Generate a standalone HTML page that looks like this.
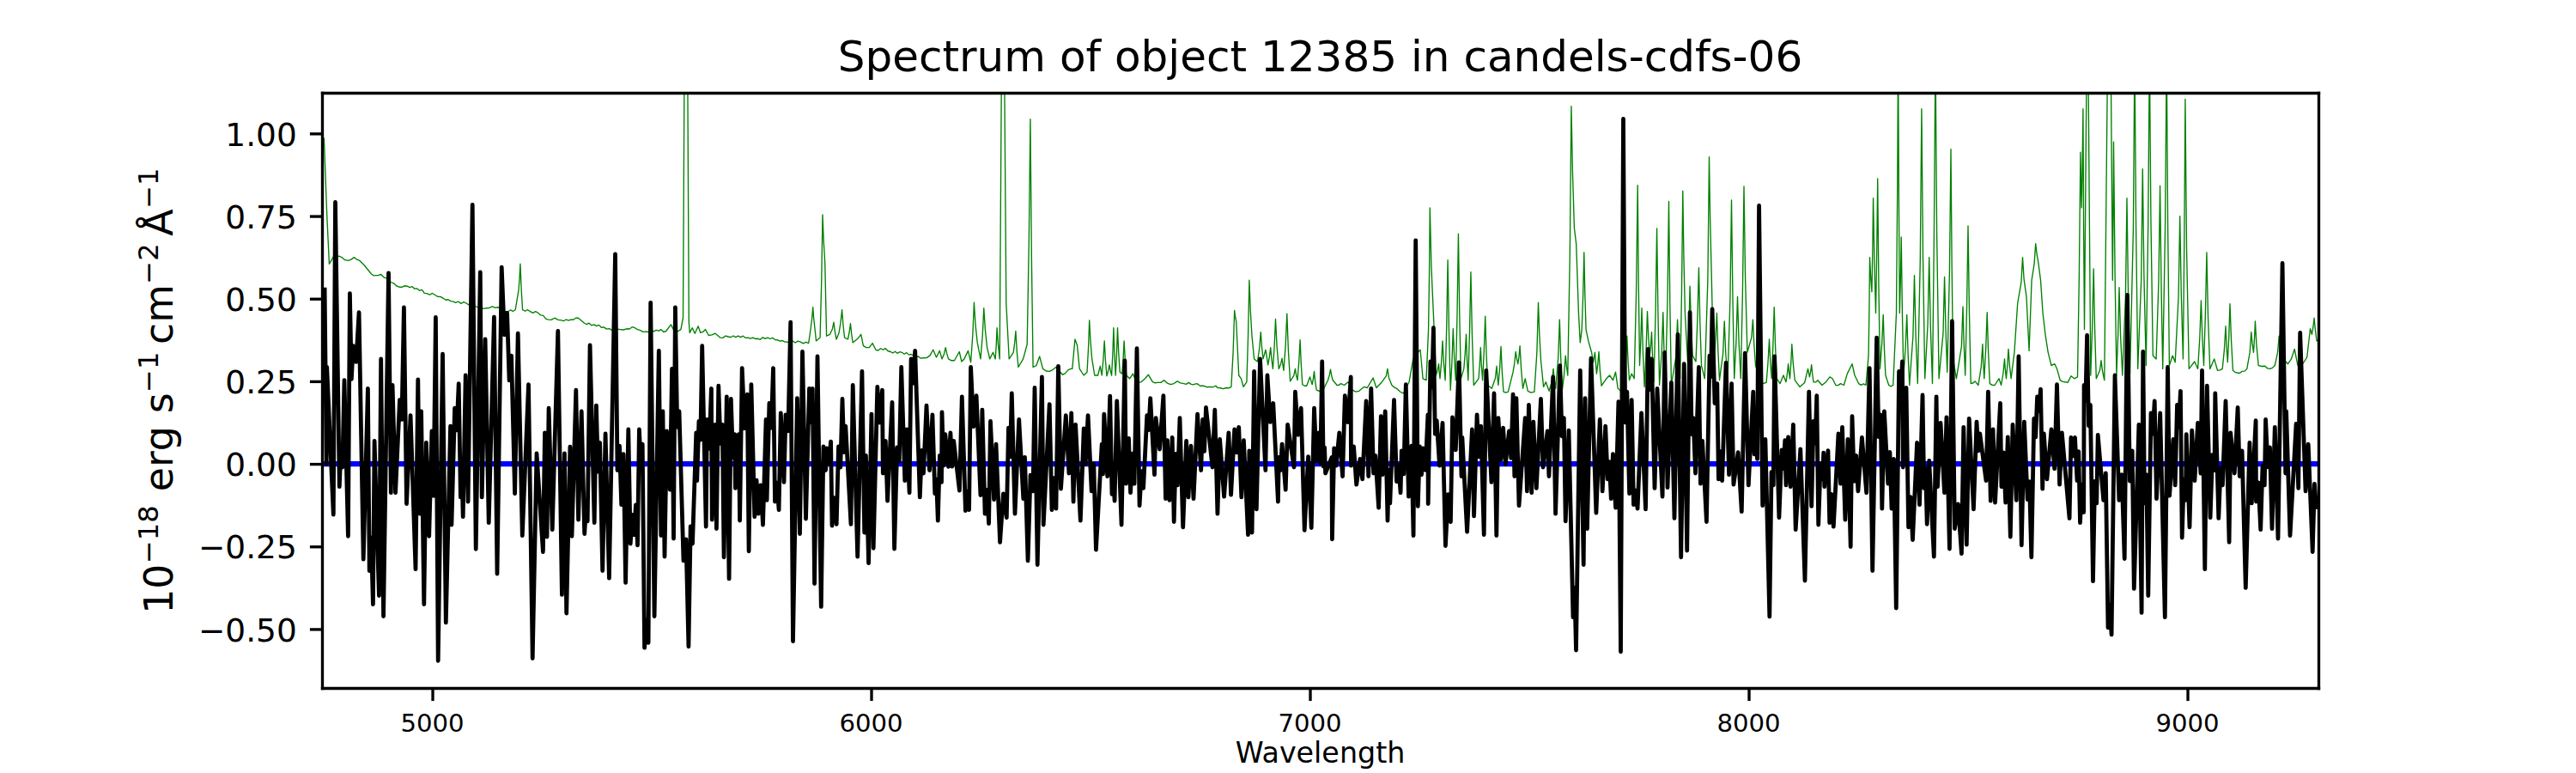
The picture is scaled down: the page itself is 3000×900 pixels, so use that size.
<!DOCTYPE html><html><head><meta charset="utf-8"><title>Spectrum of object 12385</title><style>html,body{margin:0;padding:0;background:#fff;overflow:hidden}svg{display:block}</style></head><body><svg width="3000" height="900" viewBox="0 0 720 216" version="1.1">
 
 <defs>
  <style type="text/css">*{stroke-linejoin: round; stroke-linecap: butt}</style>
 </defs>
 <g id="figure_1">
  <g id="patch_1">
   <path d="M 0 216 
L 720 216 
L 720 0 
L 0 0 
z
" style="fill: #ffffff"/>
  </g>
  <g id="axes_1">
   <g id="patch_2">
    <path d="M 90 192.24 
L 648 192.24 
L 648 25.92 
L 90 25.92 
z
" style="fill: #ffffff"/>
   </g>
   <defs><clipPath id="axclip"><rect x="90" y="25.92" width="558" height="166.32"/></clipPath></defs><g clip-path="url(#axclip)" style="fill:none;stroke-linejoin:round;stroke-linecap:butt"><polyline points="90.12,37.92 90.58,38.76 91.37,60.00 92.02,73.75 93.22,71.74 93.98,72.04 94.74,71.54 95.50,71.90 96.41,72.64 97.32,72.82 98.15,72.51 98.98,71.90 99.76,72.53 100.54,72.82 101.90,74.21 103.75,76.49 104.44,77.02 105.12,76.94 105.80,76.91 106.49,76.68 107.40,77.56 108.31,77.86 109.24,78.84 110.16,79.25 110.84,79.91 111.53,80.16 112.29,80.27 113.05,79.87 113.81,79.97 114.50,80.29 115.19,80.09 115.88,80.67 116.57,80.62 117.25,81.19 117.94,80.97 118.62,81.93 119.30,81.98 120.07,82.38 120.84,81.95 121.61,82.44 122.37,82.90 123.13,82.91 123.89,83.35 124.58,83.82 125.27,83.70 125.96,84.15 126.65,84.26 127.38,84.58 128.12,84.24 128.85,84.85 129.59,84.38 130.32,84.72 131.00,85.18 131.69,84.97 132.37,85.58 133.06,85.66 133.74,85.87 134.42,85.74 135.11,86.26 135.79,86.11 136.72,86.03 137.64,85.66 138.40,86.00 139.16,85.86 139.92,86.11 140.60,86.86 141.29,87.02 141.98,87.05 142.67,86.63 143.36,86.99 144.05,86.57 144.96,81.07 145.21,77.78 145.42,73.75 145.71,80.80 146.06,86.57 146.77,86.94 147.47,86.57 148.18,87.02 148.94,87.43 149.70,87.05 150.46,87.48 151.15,88.06 151.84,88.16 152.53,89.07 153.22,89.30 154.13,89.38 155.04,88.85 155.95,89.36 156.86,89.50 157.55,89.69 158.23,89.29 158.92,89.54 159.60,89.30 160.27,89.33 160.94,88.86 161.62,88.85 163.27,90.24 163.96,90.65 164.64,90.28 165.32,90.91 166.01,90.70 166.70,91.12 167.39,90.81 168.08,91.49 168.77,91.42 169.53,91.96 170.29,91.84 171.05,92.26 171.82,92.40 172.58,91.97 173.35,92.06 174.26,92.16 175.18,91.87 175.94,91.91 176.70,91.37 177.46,91.61 178.15,92.08 178.85,92.26 179.76,92.74 180.67,92.71 181.36,92.77 182.04,92.18 182.72,92.63 183.41,92.26 184.10,92.45 184.79,92.09 185.48,92.78 186.17,92.52 187.54,90.70 188.45,92.52 189.37,92.61 190.30,92.06 190.92,88.80 191.30,14.40 191.76,14.40 192.17,14.40 192.55,90.00 192.77,92.98 193.49,91.61 194.23,93.17 195.14,91.15 195.79,92.98 196.48,92.75 197.16,92.06 198.07,93.72 198.98,93.58 199.90,93.17 201.29,94.34 202.05,94.40 202.81,93.85 203.57,94.08 204.26,94.26 204.95,93.84 205.64,94.24 206.33,93.89 207.01,94.25 207.70,93.88 208.38,94.42 209.06,94.34 209.75,94.61 210.44,94.33 211.13,94.67 211.82,94.63 212.51,94.87 213.19,94.28 213.88,94.65 214.56,94.34 215.25,94.68 215.94,94.39 216.63,94.94 217.32,94.99 218.00,95.32 218.69,95.16 219.37,95.54 220.06,95.54 220.79,95.87 221.52,95.29 222.26,95.75 222.99,95.32 223.73,95.54 224.49,95.97 225.25,95.60 226.01,95.90 226.68,91.20 226.97,88.78 227.21,85.82 227.42,88.78 227.69,91.20 228.12,95.26 229.22,94.34 229.61,78.89 229.92,60.00 230.21,67.30 230.57,73.27 231.02,93.89 231.96,93.43 232.66,91.91 233.04,90.05 233.37,92.66 233.78,94.80 234.50,92.98 234.97,90.09 235.34,86.57 235.67,90.84 236.06,94.34 236.98,94.80 237.39,92.82 237.72,90.41 238.01,93.34 238.37,95.74 239.74,94.63 240.65,93.43 241.30,96.65 242.12,97.12 242.95,97.10 243.86,95.90 244.78,97.75 245.46,97.92 246.14,97.38 246.83,97.69 247.51,97.37 248.21,98.10 248.90,98.28 249.54,98.63 250.18,98.22 250.82,98.72 251.46,98.33 252.10,98.47 252.74,98.93 253.38,98.55 254.03,99.15 254.67,99.00 255.31,99.38 256.00,99.84 256.68,99.60 257.36,100.12 258.05,100.03 258.97,100.00 259.90,99.38 260.81,97.75 261.72,99.84 262.63,98.02 263.28,100.30 263.90,98.86 264.29,97.10 264.66,98.86 265.10,100.30 265.93,100.75 266.76,100.75 268.13,98.28 268.78,101.04 269.50,100.30 270.60,98.02 271.34,101.23 271.87,93.73 272.26,84.55 272.64,90.70 273.17,95.74 274.08,100.30 274.61,93.91 274.99,86.11 275.38,92.16 275.90,97.10 276.65,100.30 277.56,98.47 278.21,100.30 278.46,96.39 278.66,91.61 279.00,96.39 279.41,100.30 279.96,14.40 280.32,14.40 280.70,14.40 281.23,84.72 282.05,100.30 283.25,98.47 283.60,95.79 283.90,92.52 284.22,98.06 284.62,102.60 285.98,100.30 287.09,96.19 287.59,67.89 287.98,33.29 288.32,71.41 288.74,102.60 289.66,102.14 290.57,99.58 291.48,103.06 292.40,103.69 293.33,103.78 294.24,103.34 295.15,102.60 296.98,104.71 297.74,104.31 298.51,103.42 299.28,103.06 299.71,103.06 300.46,94.80 301.08,96.46 301.73,103.06 302.93,104.88 303.84,103.97 304.20,97.46 304.49,89.50 304.81,95.44 305.21,100.30 305.95,104.88 306.86,104.88 307.51,102.31 307.97,104.88 308.36,100.55 308.69,95.26 308.98,100.65 309.34,105.07 309.75,103.67 310.08,101.95 310.36,103.56 310.70,104.88 311.01,98.91 311.26,91.61 311.50,98.91 311.81,104.88 312.11,98.91 312.36,91.61 312.65,98.41 313.01,103.97 313.63,104.42 313.94,100.30 314.18,95.26 314.48,100.55 314.83,104.88 315.74,105.79 316.66,104.42 317.57,106.73 318.26,106.87 318.96,106.73 320.04,105.79 320.98,104.71 322.15,106.73 322.84,106.99 323.52,106.90 324.44,106.90 325.37,106.25 326.28,107.08 327.19,107.45 328.12,107.17 329.04,106.54 329.95,107.02 330.86,107.18 331.55,107.36 332.23,106.90 332.92,107.38 333.60,107.45 334.54,107.18 335.45,107.83 336.36,107.81 337.27,108.17 338.18,108.10 339.01,108.18 339.84,107.81 340.39,108.40 340.94,108.36 341.86,108.64 342.77,108.36 343.45,108.47 344.14,108.10 344.66,98.49 345.05,86.76 345.26,88.41 345.53,89.76 346.25,104.88 346.90,105.79 347.54,108.10 348.46,106.73 348.85,93.94 349.18,78.31 349.51,86.88 349.92,93.89 350.54,100.30 351.48,101.04 352.01,97.32 352.39,92.78 352.68,96.92 353.04,100.30 353.76,97.75 354.41,101.95 354.80,99.77 355.13,97.10 355.42,100.38 355.78,103.06 356.19,96.79 356.52,89.14 356.90,96.79 357.43,103.06 357.96,101.74 358.34,100.13 358.55,101.99 358.80,103.51 359.33,96.38 359.71,87.67 360.10,98.05 360.62,106.54 361.63,104.97 362.02,103.06 362.30,104.81 362.64,106.25 363.05,101.18 363.38,94.99 363.68,101.84 364.03,107.45 364.62,107.83 365.21,107.81 366.12,105.34 366.77,107.45 367.07,105.80 367.32,103.78 367.61,106.65 367.97,109.01 368.88,109.32 369.79,109.01 371.16,106.25 371.56,104.90 371.88,103.25 372.17,104.90 372.53,106.25 373.70,107.64 374.26,107.61 374.81,107.18 375.72,107.64 376.82,106.73 378.02,109.01 378.94,109.46 379.85,109.27 381.22,108.10 382.15,108.36 383.78,105.62 384.70,108.36 386.26,106.73 387.43,105.08 387.82,103.06 388.20,105.58 389.02,107.64 389.70,108.21 390.38,108.55 391.30,109.44 392.21,109.92 393.86,106.73 394.97,100.30 395.88,98.93 396.98,97.75 397.70,105.79 398.64,106.25 399.26,92.06 399.49,76.76 399.67,58.06 400.06,74.49 400.66,87.94 401.38,104.88 401.79,103.44 402.12,101.69 402.28,103.95 402.48,105.79 402.88,101.06 403.20,95.28 403.53,101.31 403.94,106.25 404.34,91.13 404.66,72.65 405.00,92.65 405.41,109.01 405.82,101.30 406.15,91.87 406.48,99.78 406.87,106.25 407.28,87.82 407.62,65.30 407.94,87.57 408.34,105.79 409.15,103.06 409.51,98.73 409.80,93.43 410.05,100.48 410.35,106.25 410.76,92.65 411.10,76.03 411.46,93.42 411.91,107.64 413.28,105.79 413.58,101.88 413.83,97.10 414.08,102.13 414.38,106.25 414.79,98.21 415.13,88.39 415.45,98.98 415.85,107.64 416.95,108.55 417.94,105.74 418.32,102.31 418.53,105.24 418.78,107.64 419.19,102.77 419.52,96.82 419.84,103.77 420.24,109.46 420.89,109.69 421.54,109.46 422.90,103.97 423.31,101.41 423.65,98.28 423.93,100.15 424.27,101.69 424.58,99.42 424.82,96.65 425.19,103.20 425.64,108.55 426.29,105.79 427.03,109.27 427.94,109.69 428.86,109.46 429.58,98.25 429.96,84.55 430.28,93.46 430.68,100.75 431.42,108.10 432.07,106.73 432.98,109.27 433.78,106.47 434.16,103.06 434.45,106.08 434.81,108.55 435.53,99.89 435.91,89.30 436.25,100.14 436.66,109.01 437.18,104.68 437.57,99.38 437.85,102.41 438.19,104.88 438.79,71.04 439.18,29.69 439.55,48.38 440.02,63.67 440.57,68.26 441.22,87.48 441.67,95.74 442.13,92.06 442.47,82.38 442.75,70.54 443.00,82.38 443.30,92.06 443.95,95.26 444.86,98.47 445.32,101.23 445.78,98.47 446.26,104.42 446.60,101.66 446.88,98.28 447.21,103.52 447.62,107.81 448.99,105.79 449.90,104.88 450.82,106.25 451.56,103.97 452.21,108.55 452.89,109.17 453.58,109.46 454.37,102.45 454.75,93.89 455.04,100.69 455.40,106.25 456.05,104.42 456.77,105.79 457.34,81.48 457.73,51.77 457.98,79.47 458.28,102.14 458.61,94.93 458.88,86.11 459.21,98.20 459.62,108.10 460.07,98.61 460.44,87.02 460.73,93.82 461.09,99.38 461.39,96.41 461.64,92.78 461.92,100.45 462.26,106.73 462.73,87.43 463.10,63.84 463.43,87.93 463.82,107.64 464.45,98.48 464.83,87.29 465.12,98.48 465.48,107.64 466.06,84.52 466.44,56.26 466.75,84.52 467.14,107.64 468.48,99.39 468.86,89.30 469.20,98.37 469.61,105.79 470.02,82.19 470.35,53.35 470.63,72.12 470.98,87.48 471.72,101.23 472.06,91.66 472.34,79.97 472.68,90.65 473.09,99.38 474.00,101.04 474.45,89.25 474.82,74.83 475.15,89.85 475.56,102.14 476.47,105.79 477.34,77.91 477.72,43.82 477.98,60.28 478.30,73.75 478.94,102.14 479.47,95.55 479.86,87.48 480.19,97.80 480.60,106.25 481.58,98.83 481.97,89.76 482.35,98.83 482.88,106.25 483.58,83.59 483.96,55.90 484.31,83.34 484.73,105.79 485.26,95.49 485.64,82.90 486.02,95.49 486.55,105.79 487.06,81.61 487.44,52.06 487.82,77.58 488.38,98.47 489.55,94.35 489.94,89.30 490.27,96.37 490.68,102.14 491.59,104.88 492.77,107.18 493.70,106.90 494.15,101.45 494.52,94.80 494.81,100.85 495.17,105.79 495.56,96.81 495.89,85.82 496.22,96.81 496.63,105.79 497.54,107.18 498.46,104.88 499.20,106.73 499.54,104.46 499.82,101.69 500.03,103.95 500.28,105.79 500.58,101.47 500.83,96.19 501.21,101.72 501.67,106.25 503.04,108.10 504.41,106.90 505.32,103.06 505.78,105.34 506.08,103.81 506.33,101.95 506.58,104.58 506.88,106.73 507.48,106.78 508.08,106.25 509.26,107.64 510.36,106.73 511.44,105.34 512.18,105.79 513.10,107.64 513.78,107.67 514.46,107.18 515.38,107.64 516.31,104.42 517.68,101.69 518.40,104.88 519.50,107.18 520.18,107.61 520.85,107.24 521.52,107.64 522.26,99.38 522.45,87.02 522.60,71.90 522.86,77.20 523.18,81.53 523.40,69.77 523.58,55.39 523.90,73.04 524.28,87.48 524.57,70.57 524.81,49.90 525.10,79.13 525.46,103.06 525.98,96.25 526.37,87.94 526.66,97.26 527.02,104.88 527.93,107.64 528.53,107.97 529.13,107.64 530.04,87.48 530.32,54.59 530.54,14.40 530.73,54.59 530.95,87.48 531.20,77.92 531.41,66.24 531.70,87.49 532.06,104.88 532.58,97.26 532.97,87.94 533.30,98.77 533.71,107.64 534.70,93.83 535.08,76.94 535.46,93.58 535.99,107.18 536.71,72.63 537.10,30.41 537.48,71.87 538.01,105.79 538.82,90.54 539.21,71.90 539.59,91.31 540.12,107.18 540.58,65.43 540.96,14.40 541.34,64.67 541.94,105.79 543.12,93.02 543.50,77.40 543.84,92.01 544.25,103.97 544.90,75.93 545.28,41.66 545.55,73.91 545.88,100.30 546.82,105.79 548.26,96.73 548.64,85.66 548.93,96.23 549.29,104.88 549.72,86.09 550.08,63.12 550.43,87.36 550.85,107.18 551.44,107.04 552.02,106.54 552.94,107.64 553.75,102.49 554.14,96.19 554.34,101.47 554.59,105.79 555.04,97.47 555.41,87.29 555.74,98.23 556.15,107.18 556.84,107.61 557.52,107.64 558.72,105.79 559.34,107.64 559.90,104.34 560.28,100.30 560.49,103.32 560.74,105.79 561.08,102.09 561.36,97.56 561.69,102.09 562.10,105.79 563.02,98.47 563.93,84.72 564.94,78.95 565.32,71.90 565.70,77.95 566.40,82.90 567.14,98.02 567.86,78.31 568.58,73.70 568.97,68.06 569.30,70.93 569.71,73.27 570.36,78.31 570.98,87.48 571.73,93.89 572.45,98.47 573.36,102.14 574.30,101.69 574.92,103.06 575.83,106.25 576.53,106.64 577.22,106.73 577.94,106.90 578.86,105.07 579.77,105.79 580.68,105.34 581.13,77.07 581.50,42.53 581.64,51.07 581.81,58.06 582.03,45.61 582.22,30.41 582.39,64.32 582.60,92.06 583.25,14.40 583.63,14.40 584.35,104.88 584.80,91.49 585.17,75.12 585.50,91.99 585.91,105.79 586.90,103.52 587.28,100.75 587.66,103.77 588.19,106.25 589.10,14.40 589.56,14.40 589.97,14.40 590.47,78.31 590.63,60.91 590.76,39.65 591.13,75.53 591.58,104.88 591.99,93.83 592.32,80.33 592.70,93.83 593.23,104.88 594.10,82.61 594.48,55.39 594.86,82.36 595.34,104.42 596.26,63.91 596.64,14.40 597.02,63.16 597.53,103.06 598.49,77.94 598.87,47.23 599.26,77.43 599.83,102.14 600.41,62.66 600.79,14.40 601.18,61.14 601.75,99.38 602.66,100.30 603.36,78.52 603.74,51.91 604.08,80.04 604.49,103.06 605.18,63.16 605.57,14.40 605.91,62.66 606.34,102.14 607.25,99.38 607.97,101.23 608.90,82.87 609.29,60.43 609.67,82.36 610.18,100.30 610.51,67.64 610.78,27.72 611.16,69.15 611.83,103.06 613.39,101.04 614.30,103.06 614.83,94.48 615.22,84.00 615.55,93.98 615.96,102.14 616.41,87.92 616.78,70.54 617.16,88.42 617.69,103.06 618.89,100.30 619.80,103.51 620.48,103.40 621.17,103.06 621.70,97.70 622.08,91.15 622.33,96.70 622.63,101.23 622.99,93.89 623.28,84.91 623.65,95.14 624.10,103.51 624.70,103.99 625.30,104.16 625.98,104.28 626.66,103.78 627.35,103.71 628.03,103.06 628.85,98.43 629.23,92.78 629.52,95.91 629.88,98.47 630.13,94.55 630.34,89.76 630.72,96.57 631.25,102.14 632.16,102.36 633.07,102.31 633.76,102.93 634.44,103.06 635.14,102.81 635.83,102.14 636.62,98.43 637.01,93.89 637.39,97.41 638.11,100.30 639.48,101.69 640.42,100.30 641.33,97.56 642.24,102.14 642.92,102.16 643.61,101.69 644.81,99.84 645.72,91.87 646.18,93.43 646.53,91.37 646.82,88.85 647.15,92.39 647.54,95.28 648.12,94.80" style="stroke:#008000;stroke-width:0.324"/><path d="M 90 129.617 L 648 129.617" style="stroke:#0000ff;stroke-width:1.500"/><polyline points="90.74,80.33 91.25,129.72 91.37,102.60 93.19,143.81 93.72,56.52 94.87,136.01 95.29,124.80 95.71,130.56 96.24,106.25 97.30,149.83 97.78,81.98 98.24,105.95 98.71,96.65 99.53,101.11 100.34,87.29 101.57,156.29 102.82,108.55 103.25,159.48 103.75,150.19 104.26,168.86 104.66,123.22 105.94,166.44 106.49,100.30 107.18,172.22 108.60,76.30 109.27,137.69 109.70,107.64 110.54,137.69 111.72,111.74 112.31,117.21 112.90,85.92 113.64,140.78 114.74,116.06 116.16,159.05 116.83,106.08 117.24,143.54 117.74,114.96 118.51,168.86 119.14,123.67 119.93,149.83 120.70,120.46 121.18,138.53 121.78,88.68 122.45,184.63 123.72,98.93 124.63,173.98 125.90,119.09 126.22,146.64 127.10,114.05 127.66,120.19 128.21,107.18 128.74,138.94 129.07,130.37 129.41,144.38 130.13,104.88 130.82,140.18 132.05,57.19 133.01,153.43 134.23,76.03 134.69,138.94 135.62,94.80 136.61,146.06 138.10,88.58 138.96,160.32 140.21,74.66 140.98,93.54 141.74,87.48 142.34,106.28 142.94,99.38 143.90,137.93 144.77,93.17 145.99,149.66 147.72,107.45 148.85,183.96 150.00,126.70 151.78,154.20 152.28,120.91 152.88,150.00 153.38,114.05 154.37,147.98 155.95,92.52 157.06,166.18 157.78,126.70 158.33,171.38 159.34,124.85 159.84,149.83 160.99,109.01 161.66,145.22 162.53,114.96 163.37,149.16 163.79,141.87 164.21,145.63 164.90,96.46 166.13,146.06 166.66,113.30 167.16,131.79 167.66,123.67 168.41,159.48 169.22,121.20 170.26,161.57 171.96,70.99 172.56,131.41 173.16,124.58 173.69,141.02 174.26,126.86 174.86,162.82 175.63,120.00 176.21,151.92 176.71,143.85 177.22,149.42 177.71,141.09 178.20,152.35 178.66,120.00 179.11,129.55 179.57,124.13 180.14,181.01 180.68,173.27 181.22,179.59 181.85,84.55 182.90,172.22 184.15,98.02 184.75,149.66 185.26,114.96 185.76,155.54 186.36,120.46 187.27,136.85 187.82,103.06 188.28,150.50 188.74,85.92 189.29,119.36 189.84,114.96 191.04,156.70 191.75,150.68 192.46,180.67 193.01,147.10 193.56,151.92 194.59,120.91 194.81,134.33 195.34,117.72 195.79,122.89 196.25,96.65 197.33,147.14 197.62,117.24 198.22,125.34 198.82,108.55 199.01,145.22 199.90,118.63 200.26,147.74 200.83,107.81 201.37,123.91 201.91,118.63 202.34,155.71 203.11,110.83 203.78,161.74 204.31,111.48 204.85,127.88 205.39,121.37 205.54,136.42 206.50,121.37 206.78,145.46 207.41,102.86 208.14,119.69 208.87,110.21 209.30,154.03 209.98,107.45 210.91,144.38 211.45,134.17 211.99,143.54 212.62,135.60 213.24,146.64 214.10,117.24 214.34,139.78 215.02,112.68 215.57,119.53 216.12,102.86 216.60,140.18 217.15,134.92 217.70,142.46 218.23,115.42 219.12,134.74 219.60,115.87 220.28,120.44 220.97,90.05 221.64,179.18 222.82,111.29 223.56,149.16 224.28,98.28 225.24,144.96 226.20,108.55 226.66,117.97 227.11,108.55 227.66,163.08 228.48,99.58 229.51,169.54 230.15,124.80 230.78,131.40 231.05,125.23 231.64,129.53 232.22,123.38 232.56,146.90 233.18,139.13 233.81,146.47 234.36,124.80 234.91,130.56 235.44,111.48 235.90,126.37 236.35,119.09 237.84,146.47 238.37,107.64 239.69,155.54 240.94,103.78 241.61,148.82 242.02,127.32 242.78,157.37 243.58,115.70 244.13,153.19 245.23,108.10 245.92,118.11 246.60,109.01 246.79,132.24 247.51,123.22 248.06,139.94 249.36,112.39 249.98,153.36 250.73,125.04 251.33,128.88 251.93,102.60 252.91,134.33 253.46,120.00 254.18,137.69 254.66,100.30 255.22,107.07 255.77,98.02 257.11,138.94 257.62,125.88 258.12,132.24 258.96,113.30 259.80,131.40 260.62,115.87 261.31,137.93 261.73,133.95 262.15,145.46 262.66,127.29 263.16,134.74 263.28,115.15 263.74,130.08 264.19,121.37 265.08,130.39 265.66,120.91 266.11,130.37 266.57,123.22 268.18,137.09 268.87,110.83 269.86,142.70 270.36,137.30 270.86,142.46 271.34,102.60 272.12,119.21 272.90,110.57 274.06,138.36 274.54,114.50 275.30,143.54 275.84,136.89 276.38,146.30 276.84,117.72 277.82,139.61 278.40,124.13 279.50,151.51 280.43,137.96 281.35,144.62 281.88,119.54 282.34,127.66 282.79,109.92 283.68,143.54 284.81,117.24 286.03,139.34 286.44,127.78 287.30,156.70 288.01,132.77 288.72,137.26 289.20,108.36 289.97,157.80 291.22,105.34 291.65,146.64 293.33,112.94 294.00,142.46 294.59,133.61 295.18,142.13 295.80,102.31 296.52,136.58 297.91,116.06 298.78,132.24 299.45,115.42 300.02,140.18 300.62,118.63 301.99,145.46 302.93,119.74 303.41,129.72 304.10,116.06 305.09,137.26 305.71,129.56 306.34,153.60 307.97,124.13 308.28,132.45 308.59,115.70 309.53,133.08 310.25,110.66 310.80,138.10 311.17,133.35 311.54,139.94 312.17,112.03 313.46,146.64 314.38,100.75 314.74,135.17 315.48,122.47 315.98,137.69 316.52,126.75 317.06,135.17 317.76,97.37 318.50,141.29 319.04,131.67 319.58,136.42 320.59,116.06 321.06,120.15 321.53,111.29 322.68,132.65 323.06,116.78 324.12,125.52 325.18,110.57 325.80,139.34 326.28,123.02 326.88,139.78 327.65,122.28 328.13,145.80 328.63,126.81 329.14,135.58 329.76,116.78 330.65,147.31 331.58,123.22 332.16,138.94 332.88,124.58 333.60,139.34 334.70,115.70 335.69,131.40 336.17,117.24 336.62,126.10 337.08,113.86 338.88,130.56 339.55,114.50 340.30,143.54 340.94,122.76 342.14,138.77 343.42,120.91 344.06,138.26 345.05,120.00 345.65,126.43 346.25,119.35 346.99,138.94 347.62,123.02 348.84,149.42 349.18,125.95 349.94,148.82 350.54,103.78 351.19,142.30 352.20,100.30 353.71,131.40 354.22,104.88 355.04,117.92 355.87,112.68 357.22,140.18 357.43,127.78 357.89,131.42 358.34,124.13 359.33,136.85 359.90,118.63 361.68,130.56 362.02,109.46 362.83,121.52 363.65,114.05 364.61,148.15 365.66,127.61 366.53,147.48 367.32,114.05 367.96,128.83 368.59,120.91 369.06,129.53 369.53,101.04 369.88,130.33 370.22,125.04 370.46,132.24 372.24,127.78 372.34,150.67 372.89,125.24 373.44,130.13 374.35,120.91 375.26,133.08 375.91,110.57 376.74,118.00 377.57,105.34 377.62,130.13 378.37,124.80 379.13,135.41 380.14,128.26 380.81,133.90 381.86,112.03 382.49,133.08 383.23,108.55 383.90,132.24 384.43,127.32 385.34,141.86 385.99,116.33 386.42,132.65 387.17,114.96 387.84,145.46 388.18,131.23 388.51,140.62 389.64,111.74 390.36,134.57 390.91,130.06 391.46,137.69 391.75,125.95 392.35,132.45 392.95,107.45 393.72,138.77 394.51,124.58 395.06,149.66 395.69,67.15 396.31,141.46 396.82,124.80 397.32,132.65 397.70,125.23 398.40,131.37 399.10,115.87 399.17,140.78 399.82,101.04 400.24,108.18 400.66,91.61 401.11,121.27 401.57,117.53 402.36,130.13 403.20,118.18 404.02,152.52 404.74,138.16 405.46,145.80 405.96,116.62 406.87,125.73 407.78,101.23 408.48,133.08 408.70,122.28 410.06,148.58 411.46,120.00 411.98,144.22 412.82,115.87 413.38,127.65 413.93,119.09 414.77,149.42 415.39,103.51 416.86,134.74 417.60,109.92 418.27,149.66 418.78,116.78 419.46,128.46 420.14,119.54 420.79,129.72 421.80,120.46 422.35,128.02 422.90,110.21 423.31,133.08 423.82,111.29 424.56,141.29 426.29,116.78 426.82,137.26 427.30,113.14 428.09,137.69 428.59,117.89 429.43,136.42 430.68,111.48 431.28,130.56 432.53,120.46 432.94,133.08 434.09,105.34 434.78,143.54 436.01,102.14 436.56,121.86 437.11,116.78 437.57,145.63 438.48,120.26 439.68,172.46 440.10,164.25 440.52,181.68 441.67,103.51 442.61,157.80 443.04,111.29 443.62,147.74 444.70,100.13 446.14,143.30 447.17,117.24 447.89,137.26 448.73,119.09 449.33,133.90 449.82,129.03 450.31,139.34 450.82,126.86 451.58,141.86 452.38,112.22 453.00,182.11 453.72,33.24 454.24,118.05 454.75,109.46 455.42,137.93 456.05,111.74 456.60,141.02 457.15,137.05 457.70,142.13 458.78,115.42 459.96,142.30 460.63,97.56 461.14,108.85 461.64,100.30 462.48,136.42 463.20,108.55 464.66,138.77 465.29,98.47 466.08,136.25 467.14,106.90 468.00,144.82 468.96,93.43 469.85,155.71 470.71,101.69 471.53,153.86 472.34,87.29 472.81,121.37 473.28,116.78 473.88,132.24 474.82,102.60 475.30,135.17 475.82,123.22 476.98,145.80 477.84,99.38 478.21,105.23 478.58,86.38 479.27,112.68 479.95,107.18 480.34,133.90 480.84,126.15 481.34,134.33 482.42,101.40 483.26,132.65 483.98,107.18 484.54,135.41 485.81,126.41 486.79,142.97 487.75,98.66 488.71,135.58 490.03,109.46 490.36,126.95 490.68,122.28 491.17,128.26 491.66,57.48 492.65,141.29 493.42,122.76 494.59,172.30 495.13,131.94 495.67,135.58 495.98,99.58 497.26,144.62 498.00,125.76 498.46,130.93 498.91,123.02 499.20,135.58 499.82,122.11 500.45,136.01 501.22,118.63 501.89,147.98 503.23,125.50 504.48,162.24 505.61,109.46 506.33,141.46 506.88,117.72 507.34,123.85 507.79,110.57 508.25,146.64 508.84,129.66 509.42,133.90 509.69,126.50 509.95,136.01 510.36,127.78 510.53,131.81 510.95,125.93 511.37,146.06 511.92,138.11 512.47,147.14 513.84,121.20 514.46,135.17 514.92,119.35 515.74,145.22 516.48,122.76 517.25,152.76 517.68,116.33 518.23,134.40 518.78,127.32 519.34,137.26 520.42,122.28 521.69,137.69 522.53,102.86 523.37,159.48 524.54,94.34 525.10,122.06 525.65,115.87 526.03,142.13 526.66,114.96 527.71,135.17 528.22,126.36 528.72,142.13 529.32,128.26 529.99,169.94 530.78,103.78 531.24,111.17 531.70,101.04 531.91,130.56 532.80,108.36 533.42,147.31 534.01,138.85 534.60,150.84 535.82,123.67 536.52,141.02 537.36,110.38 537.77,136.42 538.19,130.77 538.61,146.47 539.21,128.71 540.55,155.54 541.22,110.83 541.56,136.01 542.40,118.18 543.48,137.69 544.06,116.62 544.90,153.36 545.62,89.76 546.34,147.74 547.30,140.88 548.26,154.70 548.83,119.35 549.67,152.18 550.37,116.98 551.62,142.30 552.48,117.89 552.94,125.98 553.39,121.20 555.12,134.33 555.70,109.46 556.39,139.94 557.06,120.00 557.64,140.45 559.08,112.68 559.42,136.01 559.99,126.43 560.57,140.45 561.19,122.11 561.91,150.00 562.56,118.63 563.59,139.78 564.22,99.58 565.03,152.35 565.78,117.89 566.69,139.61 567.24,134.55 567.79,155.71 568.51,116.98 568.97,122.12 569.42,110.83 569.89,114.87 570.36,108.74 570.89,136.58 571.27,121.20 572.14,133.90 573.36,120.00 574.25,130.97 574.92,107.45 575.66,135.41 576.31,120.91 578.42,144.82 578.86,122.28 579.41,127.43 579.96,122.28 580.56,134.33 580.98,126.15 581.40,146.06 581.90,135.35 582.41,143.14 582.50,107.64 582.92,112.01 583.34,93.72 583.80,118.99 584.26,113.14 585.00,162.41 585.50,134.49 586.01,140.62 586.37,121.56 587.93,139.78 588.56,132.19 589.20,175.39 589.69,169.06 590.18,177.34 591.12,104.88 592.30,139.78 593.05,132.66 593.81,156.12 594.60,82.44 595.28,134.40 595.97,125.95 596.47,164.50 597.82,118.63 598.58,171.22 598.99,98.28 599.42,140.62 599.93,132.66 600.43,166.44 601.20,115.42 601.70,121.21 602.21,112.03 602.76,139.34 603.77,115.42 605.11,172.46 605.88,102.60 606.38,138.53 607.44,122.76 607.97,135.58 608.52,113.14 608.99,119.43 609.46,109.27 609.89,150.24 610.39,133.97 610.90,139.78 611.09,121.37 612.00,147.31 612.65,120.26 613.42,134.33 614.30,118.18 615.10,132.24 615.48,103.51 616.27,159.05 616.87,107.81 617.78,144.62 618.37,127.14 618.96,131.40 619.15,109.92 620.11,144.82 620.66,130.76 621.22,135.58 622.08,112.03 623.06,151.51 623.45,120.91 624.55,132.24 625.46,113.86 625.99,133.08 626.66,125.95 627.67,164.26 628.78,123.67 629.35,140.62 630.50,117.53 630.60,140.18 631.22,134.88 631.85,147.98 632.40,130.09 632.95,135.58 633.26,117.24 633.85,130.52 634.44,125.04 635.04,147.74 635.83,119.35 636.72,150.50 637.94,73.56 638.81,132.24 639.02,114.96 640.08,149.66 641.78,118.44 642.41,136.42 642.89,92.98 644.42,137.26 645.17,124.13 646.37,154.20 646.91,135.24 647.45,142.30" style="stroke:#000000;stroke-width:1.152"/></g><g id="matplotlib.axis_1">
    <g id="xtick_1">
     <g id="line2d_1">
      
      <g>
       <path d="M 0 0 
L 0 3.5 
" transform="translate(120.9640 192.3600)" style="stroke: #000000; stroke-width: 0.8"/>
      </g>
     </g>
     <g id="text_1">
      <text style="font-size: 7px; font-family: 'DejaVu Sans', 'Bitstream Vera Sans', 'Computer Modern Sans Serif', 'Lucida Grande', 'Verdana', 'Geneva', 'Lucid', 'Arial', 'Helvetica', 'Avant Garde', sans-serif; text-anchor: middle" x="120.843975" y="204.558906" transform="rotate(-0 120.843975 204.558906)">5000</text>
     </g>
    </g>
    <g id="xtick_2">
     <g id="line2d_2">
      <g>
       <path d="M 0 0 
L 0 3.5 
" transform="translate(243.6040 192.3600)" style="stroke: #000000; stroke-width: 0.8"/>
      </g>
     </g>
     <g id="text_2">
      <text style="font-size: 7px; font-family: 'DejaVu Sans', 'Bitstream Vera Sans', 'Computer Modern Sans Serif', 'Lucida Grande', 'Verdana', 'Geneva', 'Lucid', 'Arial', 'Helvetica', 'Avant Garde', sans-serif; text-anchor: middle" x="243.484033" y="204.558906" transform="rotate(-0 243.484033 204.558906)">6000</text>
     </g>
    </g>
    <g id="xtick_3">
     <g id="line2d_3">
      <g>
       <path d="M 0 0 
L 0 3.5 
" transform="translate(366.2441 192.3600)" style="stroke: #000000; stroke-width: 0.8"/>
      </g>
     </g>
     <g id="text_3">
      <text style="font-size: 7px; font-family: 'DejaVu Sans', 'Bitstream Vera Sans', 'Computer Modern Sans Serif', 'Lucida Grande', 'Verdana', 'Geneva', 'Lucid', 'Arial', 'Helvetica', 'Avant Garde', sans-serif; text-anchor: middle" x="366.124091" y="204.558906" transform="rotate(-0 366.124091 204.558906)">7000</text>
     </g>
    </g>
    <g id="xtick_4">
     <g id="line2d_4">
      <g>
       <path d="M 0 0 
L 0 3.5 
" transform="translate(488.8841 192.3600)" style="stroke: #000000; stroke-width: 0.8"/>
      </g>
     </g>
     <g id="text_4">
      <text style="font-size: 7px; font-family: 'DejaVu Sans', 'Bitstream Vera Sans', 'Computer Modern Sans Serif', 'Lucida Grande', 'Verdana', 'Geneva', 'Lucid', 'Arial', 'Helvetica', 'Avant Garde', sans-serif; text-anchor: middle" x="488.764149" y="204.558906" transform="rotate(-0 488.764149 204.558906)">8000</text>
     </g>
    </g>
    <g id="xtick_5">
     <g id="line2d_5">
      <g>
       <path d="M 0 0 
L 0 3.5 
" transform="translate(611.5242 192.3600)" style="stroke: #000000; stroke-width: 0.8"/>
      </g>
     </g>
     <g id="text_5">
      <text style="font-size: 7px; font-family: 'DejaVu Sans', 'Bitstream Vera Sans', 'Computer Modern Sans Serif', 'Lucida Grande', 'Verdana', 'Geneva', 'Lucid', 'Arial', 'Helvetica', 'Avant Garde', sans-serif; text-anchor: middle" x="611.404207" y="204.558906" transform="rotate(-0 611.404207 204.558906)">9000</text>
     </g>
    </g>
    <g id="text_6">
     <text style="font-size: 8px; font-family: 'DejaVu Sans', 'Bitstream Vera Sans', 'Computer Modern Sans Serif', 'Lucida Grande', 'Verdana', 'Geneva', 'Lucid', 'Arial', 'Helvetica', 'Avant Garde', sans-serif; text-anchor: middle" x="369" y="213.193438" transform="rotate(-0 369 213.193438)">Wavelength</text>
    </g>
   </g>
   <g id="matplotlib.axis_2">
    <g id="ytick_1">
     <g id="line2d_6">
      
      <g>
       <path d="M 0 0 
L -3.5 0 
" transform="translate(90.1200 175.8988)" style="stroke: #000000; stroke-width: 0.8"/>
      </g>
     </g>
     <g id="text_7">
      <text style="font-size: 9px; font-family: 'DejaVu Sans', 'Bitstream Vera Sans', 'Computer Modern Sans Serif', 'Lucida Grande', 'Verdana', 'Geneva', 'Lucid', 'Arial', 'Helvetica', 'Avant Garde', sans-serif; text-anchor: end" x="83" y="179.198095" transform="rotate(-0 83 179.198095)">−0.50</text>
     </g>
    </g>
    <g id="ytick_2">
     <g id="line2d_7">
      <g>
       <path d="M 0 0 
L -3.5 0 
" transform="translate(90.1200 152.8180)" style="stroke: #000000; stroke-width: 0.8"/>
      </g>
     </g>
     <g id="text_8">
      <text style="font-size: 9px; font-family: 'DejaVu Sans', 'Bitstream Vera Sans', 'Computer Modern Sans Serif', 'Lucida Grande', 'Verdana', 'Geneva', 'Lucid', 'Arial', 'Helvetica', 'Avant Garde', sans-serif; text-anchor: end" x="83" y="156.117329" transform="rotate(-0 83 156.117329)">−0.25</text>
     </g>
    </g>
    <g id="ytick_3">
     <g id="line2d_8">
      <g>
       <path d="M 0 0 
L -3.5 0 
" transform="translate(90.1200 129.7373)" style="stroke: #000000; stroke-width: 0.8"/>
      </g>
     </g>
     <g id="text_9">
      <text style="font-size: 9px; font-family: 'DejaVu Sans', 'Bitstream Vera Sans', 'Computer Modern Sans Serif', 'Lucida Grande', 'Verdana', 'Geneva', 'Lucid', 'Arial', 'Helvetica', 'Avant Garde', sans-serif; text-anchor: end" x="83" y="133.036562" transform="rotate(-0 83 133.036562)">0.00</text>
     </g>
    </g>
    <g id="ytick_4">
     <g id="line2d_9">
      <g>
       <path d="M 0 0 
L -3.5 0 
" transform="translate(90.1200 106.6565)" style="stroke: #000000; stroke-width: 0.8"/>
      </g>
     </g>
     <g id="text_10">
      <text style="font-size: 9px; font-family: 'DejaVu Sans', 'Bitstream Vera Sans', 'Computer Modern Sans Serif', 'Lucida Grande', 'Verdana', 'Geneva', 'Lucid', 'Arial', 'Helvetica', 'Avant Garde', sans-serif; text-anchor: end" x="83" y="109.955796" transform="rotate(-0 83 109.955796)">0.25</text>
     </g>
    </g>
    <g id="ytick_5">
     <g id="line2d_10">
      <g>
       <path d="M 0 0 
L -3.5 0 
" transform="translate(90.1200 83.5757)" style="stroke: #000000; stroke-width: 0.8"/>
      </g>
     </g>
     <g id="text_11">
      <text style="font-size: 9px; font-family: 'DejaVu Sans', 'Bitstream Vera Sans', 'Computer Modern Sans Serif', 'Lucida Grande', 'Verdana', 'Geneva', 'Lucid', 'Arial', 'Helvetica', 'Avant Garde', sans-serif; text-anchor: end" x="83" y="86.87503" transform="rotate(-0 83 86.87503)">0.50</text>
     </g>
    </g>
    <g id="ytick_6">
     <g id="line2d_11">
      <g>
       <path d="M 0 0 
L -3.5 0 
" transform="translate(90.1200 60.4950)" style="stroke: #000000; stroke-width: 0.8"/>
      </g>
     </g>
     <g id="text_12">
      <text style="font-size: 9px; font-family: 'DejaVu Sans', 'Bitstream Vera Sans', 'Computer Modern Sans Serif', 'Lucida Grande', 'Verdana', 'Geneva', 'Lucid', 'Arial', 'Helvetica', 'Avant Garde', sans-serif; text-anchor: end" x="83" y="63.794264" transform="rotate(-0 83 63.794264)">0.75</text>
     </g>
    </g>
    <g id="ytick_7">
     <g id="line2d_12">
      <g>
       <path d="M 0 0 
L -3.5 0 
" transform="translate(90.1200 37.4142)" style="stroke: #000000; stroke-width: 0.8"/>
      </g>
     </g>
     <g id="text_13">
      <text style="font-size: 9px; font-family: 'DejaVu Sans', 'Bitstream Vera Sans', 'Computer Modern Sans Serif', 'Lucida Grande', 'Verdana', 'Geneva', 'Lucid', 'Arial', 'Helvetica', 'Avant Garde', sans-serif; text-anchor: end" x="83" y="40.713498" transform="rotate(-0 83 40.713498)">1.00</text>
     </g>
    </g>
    <g id="text_14">
     
     <g transform="translate(49.109219 171.56) rotate(-90)">
      <text>
       <tspan x="0" y="-0.796875" style="font-size: 11px; font-family: 'DejaVu Sans', sans-serif">1</tspan>
       <tspan x="6.998535" y="-0.796875" style="font-size: 11px; font-family: 'DejaVu Sans', sans-serif">0</tspan>
       <tspan x="34.224574" y="-0.796875" style="font-size: 11px; font-family: 'DejaVu Sans', sans-serif">e</tspan>
       <tspan x="40.992152" y="-0.796875" style="font-size: 11px; font-family: 'DejaVu Sans', sans-serif">r</tspan>
       <tspan x="45.514613" y="-0.796875" style="font-size: 11px; font-family: 'DejaVu Sans', sans-serif">g</tspan>
       <tspan x="56.068776" y="-0.796875" style="font-size: 11px; font-family: 'DejaVu Sans', sans-serif">s</tspan>
       <tspan x="75.342445" y="-0.796875" style="font-size: 11px; font-family: 'DejaVu Sans', sans-serif">c</tspan>
       <tspan x="81.390296" y="-0.796875" style="font-size: 11px; font-family: 'DejaVu Sans', sans-serif">m</tspan>
       <tspan x="105.64834" y="-0.796875" style="font-size: 11px; font-family: 'DejaVu Sans', sans-serif">Å</tspan>
       <tspan x="14.102344" y="-5.007812" style="font-size: 7.7px; font-family: 'DejaVu Sans', sans-serif">−</tspan>
       <tspan x="20.554102" y="-5.007812" style="font-size: 7.7px; font-family: 'DejaVu Sans', sans-serif">1</tspan>
       <tspan x="25.453076" y="-5.007812" style="font-size: 7.7px; font-family: 'DejaVu Sans', sans-serif">8</tspan>
       <tspan x="61.905007" y="-5.007812" style="font-size: 7.7px; font-family: 'DejaVu Sans', sans-serif">−</tspan>
       <tspan x="68.356765" y="-5.007812" style="font-size: 7.7px; font-family: 'DejaVu Sans', sans-serif">1</tspan>
       <tspan x="92.210902" y="-5.007812" style="font-size: 7.7px; font-family: 'DejaVu Sans', sans-serif">−</tspan>
       <tspan x="98.66266" y="-5.007812" style="font-size: 7.7px; font-family: 'DejaVu Sans', sans-serif">2</tspan>
       <tspan x="113.278516" y="-5.007812" style="font-size: 7.7px; font-family: 'DejaVu Sans', sans-serif">−</tspan>
       <tspan x="119.730273" y="-5.007812" style="font-size: 7.7px; font-family: 'DejaVu Sans', sans-serif">1</tspan>
      </text>
     </g>
    </g>
   </g>
   <g id="patch_3" transform="translate(0.12 0.12)">
    <path d="M 90 192.24 
L 90 25.92 
" style="fill: none; stroke: #000000; stroke-width: 0.8; stroke-linejoin: miter; stroke-linecap: square"/>
   </g>
   <g id="patch_4" transform="translate(0.12 0.12)">
    <path d="M 648 192.24 
L 648 25.92 
" style="fill: none; stroke: #000000; stroke-width: 0.8; stroke-linejoin: miter; stroke-linecap: square"/>
   </g>
   <g id="patch_5" transform="translate(0.12 0.12)">
    <path d="M 90 192.24 
L 648 192.24 
" style="fill: none; stroke: #000000; stroke-width: 0.8; stroke-linejoin: miter; stroke-linecap: square"/>
   </g>
   <g id="patch_6" transform="translate(0.12 0.12)">
    <path d="M 90 25.92 
L 648 25.92 
" style="fill: none; stroke: #000000; stroke-width: 0.8; stroke-linejoin: miter; stroke-linecap: square"/>
   </g>
   <g id="text_15">
    <text style="font-size: 12px; font-family: 'DejaVu Sans', 'Bitstream Vera Sans', 'Computer Modern Sans Serif', 'Lucida Grande', 'Verdana', 'Geneva', 'Lucid', 'Arial', 'Helvetica', 'Avant Garde', sans-serif; text-anchor: middle" x="369" y="19.92" transform="rotate(-0 369 19.92)">Spectrum of object 12385 in candels-cdfs-06</text>
   </g>
  </g>
 </g>
</svg>
</body></html>
